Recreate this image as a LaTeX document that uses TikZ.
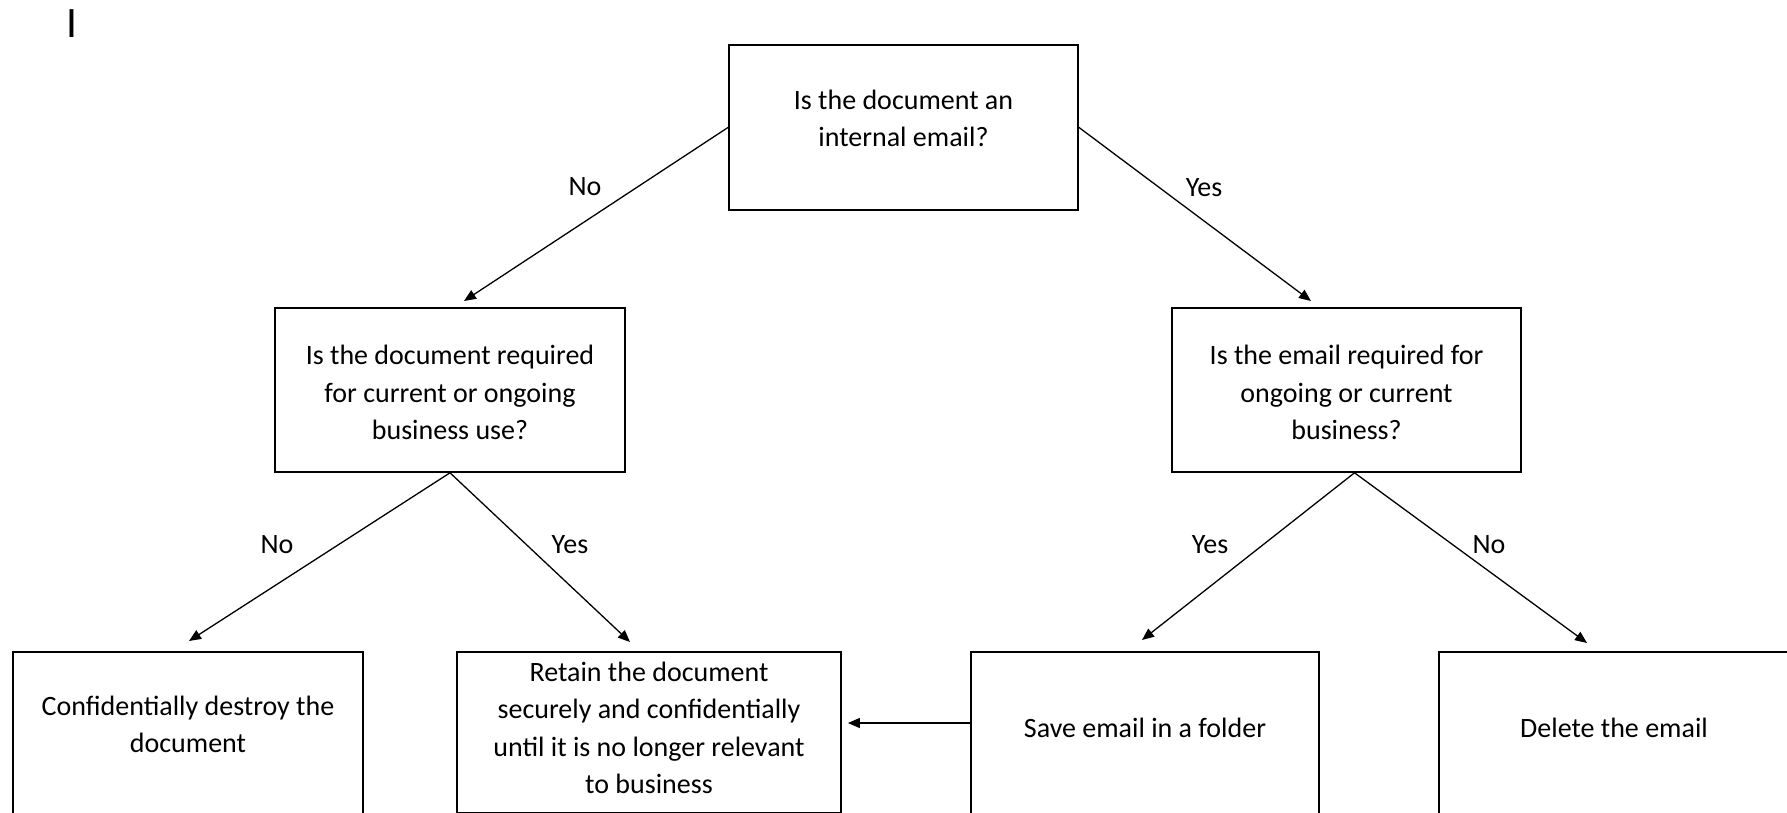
\documentclass[tikz,border=0pt]{standalone}
\usepackage{fontspec}
\setmainfont{Carlito}
\usetikzlibrary{arrows.meta}

\begin{document}
\begin{tikzpicture}[
  x=0.5pt, y=-0.5pt,
  box/.style={rectangle, draw, line width=0.9pt, anchor=north, inner sep=0pt, align=center, font=\fontsize{14}{18.75}\selectfont},
  arr/.style={-{Triangle[length=6pt, width=5pt]}, line width=0.65pt},
  answer/.style={font=\fontsize{14}{18.75}\selectfont, inner sep=0pt}
]
\useasboundingbox (0,0) rectangle (1787,813);
\clip (0,0) rectangle (1787,813);
\node[font=\fontsize{21.7}{26}\selectfont, inner sep=0pt] (cursor) at (72,24) {I};
\node[box, minimum width=174.5pt, text height=51pt, text depth=31.5pt] (internal) at (903.5,44) {Is the document an\\internal email?};
\node[box, minimum width=175pt, text height=66pt, text depth=16pt] (required) at (450,307) {Is the document required\\for current or ongoing\\business use?};
\node[box, minimum width=174.5pt, text height=66pt, text depth=16pt] (emailreq) at (1346.5,307) {Is the email required for\\ongoing or current\\business?};
\node[box, minimum width=175pt, text height=50.5pt, text depth=44pt] (destroy) at (188,651) {Confidentially destroy the\\document};
\node[box, minimum width=192pt, text height=71pt, text depth=9.5pt] (retain) at (649,651) {Retain the document\\securely and confidentially\\until it is no longer relevant\\to business};
\node[box, minimum width=174pt, text height=43pt, text depth=51.5pt] (save) at (1145,651) {Save email in a folder};
\node[box, minimum width=175pt, text height=43pt, text depth=51.5pt] (delete) at (1614,651) {Delete the email};
\node[answer] (no1) at (585,187) {No};
\node[answer] (yes1) at (1204,188) {Yes};
\node[answer] (no2) at (277,545) {No};
\node[answer] (yes2) at (570,545) {Yes};
\node[answer] (yes3) at (1210,545) {Yes};
\node[answer] (no3) at (1489,545) {No};
\draw[arr] (internal.west) -- ([shift={(14,-6)}]required.north);
\draw[arr] (internal.east) -- ([shift={(-35.5,-6)}]emailreq.north);
\draw[arr] (required.south) -- ([shift={(1,-10)}]destroy.north);
\draw[arr] (required.south) -- ([shift={(-19,-9)}]retain.north);
\draw[arr] ([shift={(8,0)}]emailreq.south) -- ([shift={(-3,-11)}]save.north);
\draw[arr] ([shift={(8,0)}]emailreq.south) -- ([shift={(-27,-8)}]delete.north);
\draw[arr, shorten >=3pt] (save.west |- 0,723) -- (retain.east |- 0,723);
\end{tikzpicture}
\end{document}
